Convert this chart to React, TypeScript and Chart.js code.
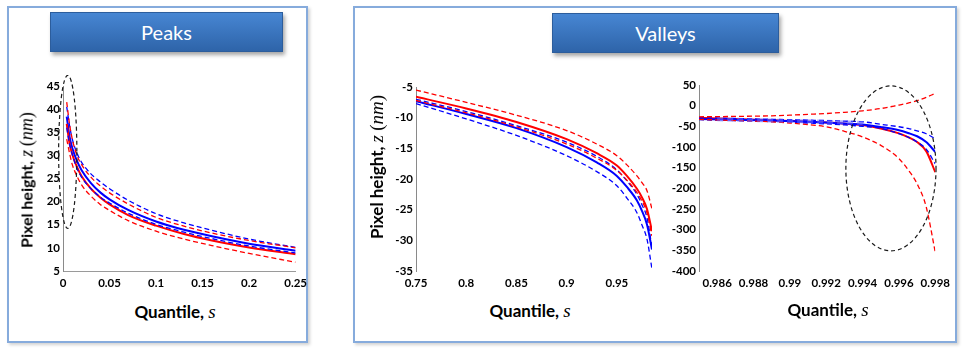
import React, { useEffect, useRef } from "react";
import { Chart, registerables } from "chart.js";
Chart.register(...registerables);

// ---------- Peaks (left panel) ----------
const peakS = [0.004, 0.007, 0.01, 0.015, 0.02, 0.03, 0.04, 0.05, 0.07, 0.1, 0.13, 0.16, 0.2, 0.25];
const peakRed = [36.8, 32.6, 30.2, 27.5, 25.5, 22.8, 20.9, 19.4, 17.1, 14.8, 13.0, 11.6, 10.1, 8.6];
const peakBlue = [38.4, 34.1, 31.6, 28.8, 26.8, 24.0, 22.0, 20.5, 18.2, 15.7, 13.9, 12.5, 10.9, 9.4];
const peakRedUpper = [41.5, 36.8, 33.5, 30.0, 28.0, 25.3, 23.4, 21.9, 19.5, 16.6, 14.7, 13.2, 11.6, 10.0];
const peakRedLower = [33.5, 30.5, 28.0, 25.5, 23.6, 21.2, 19.4, 18.1, 15.9, 13.6, 11.9, 10.5, 8.8, 6.9];
const peakBlueUpper = [40.5, 36.5, 33.5, 30.5, 28.5, 26.0, 24.3, 22.8, 20.3, 17.4, 15.4, 13.8, 11.9, 10.1];
const peakBlueLower = [36.0, 32.5, 30.2, 27.2, 25.3, 22.8, 21.0, 19.7, 17.5, 15.1, 13.4, 12.0, 10.4, 8.9];
const peakXTicks = [0, 0.05, 0.1, 0.15, 0.2, 0.25];
const peakYTicks = [5, 10, 15, 20, 25, 30, 35, 40, 45];
const peakEllipse = [0.0051, 30.75, 0.0098, 16.55]; // centre s, centre z, radius s, radius z

// ---------- Valleys (middle) ----------
const valleyS = [0.75, 0.8, 0.85, 0.9, 0.93, 0.95, 0.96, 0.97, 0.975, 0.98, 0.985];
const valleyRed = [-6.6, -8.5, -10.7, -13.5, -15.8, -17.8, -19.5, -21.6, -23.0, -24.9, -28.5];
const valleyBlue = [-7.3, -9.4, -11.7, -14.8, -17.3, -19.5, -21.3, -23.5, -25.2, -27.4, -31.5];
const valleyRedUpper = [-5.5, -7.5, -9.6, -12.1, -14.3, -16.2, -17.7, -19.5, -20.6, -21.9, -24.9];
const valleyRedLower = [-7.2, -9.2, -11.5, -14.3, -16.6, -18.6, -20.2, -22.2, -23.6, -25.5, -29.3];
const valleyBlueUpper = [-7.0, -9.0, -11.3, -14.0, -16.3, -18.5, -20.3, -22.5, -24.2, -26.3, -31.2];
const valleyBlueLower = [-7.7, -10.2, -12.9, -16.2, -18.8, -21.1, -23.1, -25.5, -27.5, -29.8, -34.7];
const valleyXTicks = [0.75, 0.8, 0.85, 0.9, 0.95];
const valleyYTicks = [-35, -30, -25, -20, -15, -10, -5];

// ---------- Valleys (tail, right) ----------
const tailS = [0.985, 0.987, 0.989, 0.99, 0.991, 0.992, 0.993, 0.994, 0.995, 0.996, 0.9965, 0.997, 0.9975, 0.998];
const tailRed = [-29.5, -32, -35, -37, -39, -41, -43.5, -47, -55, -67, -76, -88, -110, -161];
const tailBlue = [-32, -34, -36, -37, -39, -41, -43, -45.5, -51.5, -59.5, -66, -74, -88, -112];
const tailBlueUpper = [-29, -31, -33, -34, -35, -36, -37.5, -39, -45, -51, -55, -61, -68, -80];
const tailBlueLower = [-34, -36, -38.5, -40, -42, -44, -46.5, -50, -55, -67.5, -76, -88, -105, -141];
const tailRedUpper = [-27, -26, -24.5, -23, -21, -19, -16, -12.5, -7, 1.5, 6, 12, 20, 29.7];
const tailRedLower = [-33, -36, -39, -42, -46, -51, -62, -75.7, -96, -128, -155, -189, -245, -355];
const tailLightS = [0.986, 0.988, 0.99, 0.992, 0.994];
const tailLight = [-33, -35, -37, -39, -42];
const tailXTicks = [0.986, 0.988, 0.99, 0.992, 0.994, 0.996, 0.998];
const tailYTicks = [-400, -350, -300, -250, -200, -150, -100, -50, 0, 50];
const tailEllipse = [0.99556, -151.7, 0.00248, 199.5];

const RED = "rgb(255,0,0)";
const BLUE = "rgb(0,0,255)";
const TICK_FONT = { family: "Lato, 'Open Sans', sans-serif", weight: "bold" as const, size: 11.5 };

type Series = { s: number[]; v: number[]; color: string; dashed?: boolean; width?: number; dash?: number[] };
type Cfg = {
  series: Series[];
  xMin: number; xMax: number; yMin: number; yMax: number;
  xTicks: number[]; yTicks: number[];
  xFmt: (v: number) => string;
  yWidth: number; xHeight: number;
  padTop: number; padRight: number;
  xLine: boolean;
  ellipse?: number[];
};

function buildConfig(cfg: Cfg): any {
  const datasets = cfg.series.map((sr) => ({
    data: sr.s.map((x, i) => ({ x, y: sr.v[i] })),
    borderColor: sr.color,
    borderWidth: sr.width ?? (sr.dashed ? 1.3 : 2),
    borderDash: sr.dash ?? (sr.dashed ? [5, 3] : []),
    pointRadius: 0,
    fill: false,
    cubicInterpolationMode: "monotone",
  }));
  const plugins: any[] = [];
  if (cfg.ellipse) {
    const e = cfg.ellipse;
    plugins.push({
      id: "ellipseMark",
      afterDatasetsDraw(chart: any) {
        const { ctx, scales } = chart;
        const x = scales.x, y = scales.y;
        const px = x.getPixelForValue(e[0]);
        const py = y.getPixelForValue(e[1]);
        const rx = Math.abs(x.getPixelForValue(e[0] + e[2]) - px);
        const ry = Math.abs(y.getPixelForValue(e[1] + e[3]) - py);
        ctx.save();
        ctx.beginPath();
        ctx.setLineDash([4, 3]);
        ctx.lineWidth = 1.2;
        ctx.strokeStyle = "#1a1a1a";
        ctx.ellipse(px, py, rx, ry, 0, 0, Math.PI * 2);
        ctx.stroke();
        ctx.restore();
      },
    });
  }
  return {
    type: "line",
    data: { datasets },
    plugins,
    options: {
      animation: false,
      responsive: false,
      events: [],
      layout: { padding: { left: 0, right: cfg.padRight, top: cfg.padTop, bottom: 0 } },
      plugins: { legend: { display: false }, tooltip: { enabled: false } },
      scales: {
        x: {
          type: "linear",
          min: cfg.xMin,
          max: cfg.xMax,
          afterBuildTicks: (s: any) => { s.ticks = cfg.xTicks.map((value) => ({ value })); },
          afterFit: (s: any) => { s.height = cfg.xHeight; },
          grid: { display: false, drawTicks: false },
          border: { display: cfg.xLine, color: "#9a9a9a", width: 1 },
          ticks: {
            font: TICK_FONT, color: "#000", padding: 5, maxRotation: 0, autoSkip: false,
            callback: (v: any) => cfg.xFmt(Number(v)),
          },
        },
        y: {
          type: "linear",
          min: cfg.yMin,
          max: cfg.yMax,
          afterBuildTicks: (s: any) => { s.ticks = cfg.yTicks.map((value) => ({ value })); },
          afterFit: (s: any) => { s.width = cfg.yWidth; },
          grid: { display: false, drawTicks: false },
          border: { display: true, color: "#8a8a8a", width: 1 },
          ticks: {
            font: TICK_FONT, color: "#000", padding: 3, autoSkip: false,
            callback: (v: any) => String(v),
          },
        },
      },
    },
  };
}

function ChartBox(props: { left: number; top: number; width: number; height: number; cfg: Cfg }) {
  const ref = useRef<HTMLCanvasElement>(null);
  useEffect(() => {
    const chart = new Chart(ref.current as HTMLCanvasElement, buildConfig(props.cfg));
    return () => chart.destroy();
  }, []);
  return (
    <canvas
      ref={ref}
      width={props.width}
      height={props.height}
      style={{ position: "absolute", left: props.left, top: props.top, width: props.width, height: props.height }}
    />
  );
}

const fmtShort = (v: number) => String(parseFloat(v.toFixed(3)));

const peakCfg: Cfg = {
  series: [
    { s: peakS, v: peakRedUpper, color: RED, dashed: true },
    { s: peakS, v: peakRedLower, color: RED, dashed: true },
    { s: peakS, v: peakBlueUpper, color: BLUE, dashed: true },
    { s: peakS, v: peakBlueLower, color: BLUE, dashed: true },
    { s: peakS, v: peakRed, color: RED },
    { s: peakS, v: peakBlue, color: BLUE },
  ],
  xMin: 0, xMax: 0.25, yMin: 5, yMax: 45,
  xTicks: peakXTicks, yTicks: peakYTicks, xFmt: fmtShort,
  yWidth: 43, xHeight: 26, padTop: 11, padRight: 14, xLine: true,
  ellipse: peakEllipse,
};

const valleyCfg: Cfg = {
  series: [
    { s: valleyS, v: valleyRedUpper, color: RED, dashed: true },
    { s: valleyS, v: valleyRedLower, color: RED, dashed: true },
    { s: valleyS, v: valleyBlueUpper, color: BLUE, dashed: true },
    { s: valleyS, v: valleyBlueLower, color: BLUE, dashed: true },
    { s: valleyS, v: valleyBlue, color: BLUE },
    { s: valleyS, v: valleyRed, color: RED },
  ],
  xMin: 0.75, xMax: 0.985, yMin: -35, yMax: -5,
  xTicks: valleyXTicks, yTicks: valleyYTicks, xFmt: fmtShort,
  yWidth: 46, xHeight: 26, padTop: 12, padRight: 18, xLine: false,
};

const tailCfg: Cfg = {
  series: [
    { s: tailLightS, v: tailLight, color: "rgba(110,110,255,0.55)", width: 4, dash: [6, 4] },
    { s: tailS, v: tailRedUpper, color: RED, dashed: true },
    { s: tailS, v: tailRedLower, color: RED, dashed: true },
    { s: tailS, v: tailBlueUpper, color: BLUE, dashed: true },
    { s: tailS, v: tailBlueLower, color: BLUE, dashed: true },
    { s: tailS, v: tailBlue, color: BLUE },
    { s: tailS, v: tailRed, color: RED },
  ],
  xMin: 0.985, xMax: 0.998, yMin: -400, yMax: 50,
  xTicks: tailXTicks, yTicks: tailYTicks, xFmt: fmtShort,
  yWidth: 44, xHeight: 26, padTop: 11, padRight: 19, xLine: false,
  ellipse: tailEllipse,
};

const panelStyle = (left: number, width: number): React.CSSProperties => ({
  position: "absolute", left, top: 6, width, height: 337, boxSizing: "border-box",
  border: "2px solid #86abdc", background: "#fff", boxShadow: "2px 2px 3px rgba(0,0,0,0.18)",
});

const bannerStyle = (left: number, top: number, width: number): React.CSSProperties => ({
  position: "absolute", left, top, width, height: 40, boxSizing: "border-box",
  background: "linear-gradient(#4786d3, #2e64a9)", border: "1px solid #2c5d9c",
  boxShadow: "2px 3px 4px rgba(0,0,0,0.35)", color: "#fff",
  font: "20px Lato, 'Open Sans', sans-serif", display: "flex", alignItems: "center", justifyContent: "center",
});

const serif = { fontFamily: "'Liberation Serif', 'DejaVu Serif', serif", fontWeight: "normal" as const };

function YTitle(props: { cx: number; cy: number; size: number }) {
  return (
    <div style={{
      position: "absolute", left: props.cx, top: props.cy, transform: "translate(-50%,-50%) rotate(-90deg)",
      font: `bold ${props.size}px Lato, 'Open Sans', sans-serif`, whiteSpace: "nowrap", color: "#000",
    }}>
      Pixel height, <i style={{ ...serif, fontSize: props.size + 2 }}>z</i>{" "}
      <span style={{ ...serif, fontSize: props.size + 2 }}>(<i>nm</i>)</span>
    </div>
  );
}

function XTitle(props: { cx: number; cy: number }) {
  return (
    <div style={{
      position: "absolute", left: props.cx, top: props.cy, transform: "translate(-50%,-50%)",
      font: "bold 17px Lato, 'Open Sans', sans-serif", whiteSpace: "nowrap", color: "#000",
    }}>
      Quantile, <i style={{ ...serif, fontSize: 19 }}>s</i>
    </div>
  );
}

export default function App() {
  return (
    <div style={{ position: "absolute", left: 0, top: 0, width: 969, height: 349, background: "#fff", overflow: "hidden" }}>
      <div style={panelStyle(7, 301)} />
      <div style={panelStyle(353, 604)} />
      <div style={bannerStyle(50, 12, 233)}>Peaks</div>
      <div style={bannerStyle(552, 13, 227)}>Valleys</div>
      <ChartBox left={20} top={75} width={292} height={222} cfg={peakCfg} />
      <ChartBox left={370} top={75} width={300} height={222} cfg={valleyCfg} />
      <ChartBox left={655} top={74} width={300} height={223} cfg={tailCfg} />
      <YTitle cx={27} cy={180} size={16} />
      <YTitle cx={377} cy={167} size={17} />
      <XTitle cx={175} cy={312} />
      <XTitle cx={530} cy={311} />
      <XTitle cx={828} cy={310} />
    </div>
  );
}
